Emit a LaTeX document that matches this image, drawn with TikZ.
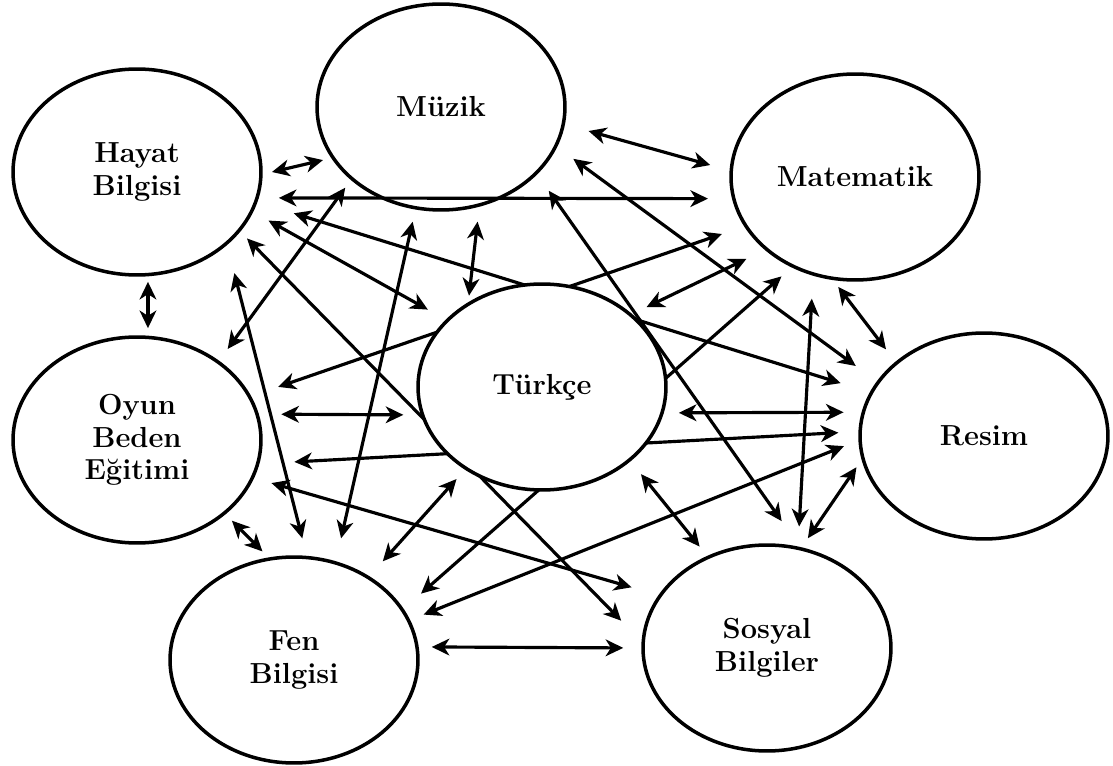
\documentclass[tikz,border=0pt]{standalone}
\usepackage{tikz}
\usetikzlibrary{shapes.geometric,arrows.meta}
\pgfdeclarelayer{background}
\pgfsetlayers{background,main}

\begin{document}
\begin{tikzpicture}[
    x=0.02cm, y=-0.02cm,
    subject/.style={ellipse, draw, line width=2pt, minimum width=4.96cm,
        minimum height=4.12cm, inner sep=0pt, align=center,
        font=\fontsize{16.5}{18.5}\selectfont\bfseries},
    link/.style={<->, >={Stealth[length=10pt,width=9.5pt,inset=3pt]}, line width=1.8pt},
]
\useasboundingbox (0,0) rectangle (1113,766);

% Subjects
\node[subject] (hayat) at (137,172) {Hayat\\Bilgisi};
\node[subject] (muzik) at (441,107) {Müzik};
\node[subject] (matematik) at (855,177) {Matematik};
\node[subject] (oyun) at (137,440) {Oyun\\Beden\\Eğitimi};
\node[subject] (resim) at (984,436) {Resim};
\node[subject] (fen) at (294,660) {Fen\\Bilgisi};
\node[subject] (sosyal) at (767,648) {Sosyal\\Bilgiler};
% Türkçe in the middle covers the links behind it
\node[subject, fill=white] (turkce) at (542,387) {Türkçe};

\begin{pgfonlayer}{background}
% Hayat Bilgisi links
\draw[link, shorten <=0.19cm, shorten >=0.17cm] (hayat.-1) -- (muzik.-155);
\draw[link, shorten <=0.40cm, shorten >=0.48cm] (hayat.-12) -- (matematik.-170);
\draw[link, shorten <=0.76cm, shorten >=0.61cm] (hayat.-14) -- (resim.159);
\draw[link, shorten <=0.35cm, shorten >=0.41cm] (hayat.-19) -- (turkce.145);
\draw[link, shorten <=0.19cm, shorten >=0.58cm] (hayat.-30) -- (sosyal.177);
\draw[link, shorten <=0.58cm, shorten >=0.36cm] (hayat.-39) -- (fen.83);
\draw[link, shorten <=0.11cm, shorten >=0.15cm] (hayat.-84) -- (oyun.84);
% Müzik links
\draw[link, shorten <=0.49cm, shorten >=0.40cm] (muzik.-8) -- (matematik.177);
\draw[link, shorten <=0.40cm, shorten >=0.52cm] (muzik.-19) -- (resim.153);
\draw[link, shorten <=0.40cm, shorten >=0.63cm] (muzik.-35) -- (sosyal.72);
\draw[link, shorten <=0.19cm, shorten >=0.29cm] (muzik.-141) -- (oyun.44);
\draw[link, shorten <=0.25cm, shorten >=0.47cm] (muzik.-104) -- (fen.67);
\draw[link, shorten <=0.30cm, shorten >=0.13cm] (muzik.-69) -- (turkce.131);
% Matematik links
\draw[link, shorten <=0.47cm, shorten >=0.57cm] (matematik.-156) -- (oyun.21);
\draw[link, shorten <=0.41cm, shorten >=0.32cm] (matematik.-141) -- (turkce.39);
\draw[link, shorten <=0.27cm, shorten >=0.46cm] (matematik.-125) -- (fen.25);
\draw[link, shorten <=0.46cm, shorten >=0.40cm] (matematik.-113) -- (sosyal.73);
\draw[link, shorten <=0.17cm, shorten >=0.31cm] (matematik.-102) -- (resim.140);
% Türkçe links
\draw[link, shorten <=0.45cm, shorten >=0.35cm] (oyun.12) -- (turkce.-167);
\draw[link, shorten <=0.30cm, shorten >=0.36cm] (turkce.-12) -- (resim.169);
\draw[link, shorten <=0.25cm, shorten >=0.40cm] (turkce.-133) -- (fen.48);
\draw[link, shorten <=0.33cm, shorten >=0.24cm] (turkce.-40) -- (sosyal.123);
% Oyun Beden Eğitimi links
\draw[link, shorten <=0.70cm, shorten >=0.40cm] (oyun.-11) -- (resim.178);
\draw[link, shorten <=0.36cm, shorten >=0.56cm] (oyun.-18) -- (sosyal.154);
\draw[link, shorten <=0.18cm, shorten >=0.17cm] (oyun.-40) -- (fen.104);
% Fen Bilgisi and Sosyal Bilgiler links
\draw[link, shorten <=0.29cm, shorten >=0.31cm] (fen.19) -- (resim.-178);
\draw[link, shorten <=0.26cm, shorten >=0.36cm] (fen.6) -- (sosyal.180);
\draw[link, shorten <=0.22cm, shorten >=0.18cm] (sosyal.71) -- (resim.-169);
\end{pgfonlayer}

\end{tikzpicture}
\end{document}
